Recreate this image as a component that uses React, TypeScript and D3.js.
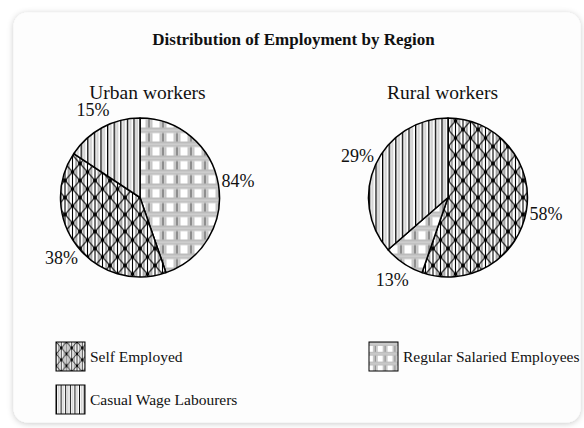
import * as d3 from "d3";
import React from "react";

// chart values
const legendItems = ["Self Employed", "Regular Salaried Employees", "Casual Wage Labourers"];

const urbanOrder = ["Regular Salaried Employees", "Self Employed", "Casual Wage Labourers"];
const urbanShares = [44.7, 39.6, 15.7];
const urbanLabels = ["84%", "38%", "15%"];

const ruralOrder = ["Self Employed", "Regular Salaried Employees", "Casual Wage Labourers"];
const ruralShares = [55.3, 8.3, 36.4];
const ruralLabels = ["58%", "13%", "29%"];

const W = 584;
const H = 428;
const FONT = "'Liberation Serif', 'Times New Roman', serif";

const patternId = (name: string, prefix: string) =>
  prefix + "-" + name.replace(/\s+/g, "-").toLowerCase();

// hatch fills, one per category
const Patterns = ({ prefix, scale }: { prefix: string; scale: number }) => {
  const t = `scale(${scale})`;
  const sw = 1.1;
  return (
    <>
      <pattern id={patternId("Self Employed", prefix)} width={15} height={17}
        patternUnits="userSpaceOnUse" patternTransform={t}>
        <rect width={15} height={17} fill="#fff" />
        <rect x={2.6} y={0} width={2.2} height={17} fill="#a8a8a8" />
        <rect x={10.2} y={0} width={2.2} height={17} fill="#a8a8a8" />
        <line x1={0} y1={0} x2={0} y2={17} stroke="#000" strokeWidth={sw} />
        <line x1={7.5} y1={0} x2={7.5} y2={17} stroke="#000" strokeWidth={sw} />
        <line x1={15} y1={0} x2={15} y2={17} stroke="#000" strokeWidth={sw} />
        <line x1={0} y1={0} x2={15} y2={17} stroke="#000" strokeWidth={sw} />
        <line x1={15} y1={0} x2={0} y2={17} stroke="#000" strokeWidth={sw} />
        <line x1={-7.5} y1={8.5} x2={7.5} y2={25.5} stroke="#000" strokeWidth={sw} />
        <line x1={7.5} y1={-8.5} x2={22.5} y2={8.5} stroke="#000" strokeWidth={sw} />
        <line x1={22.5} y1={8.5} x2={7.5} y2={25.5} stroke="#000" strokeWidth={sw} />
        <line x1={7.5} y1={-8.5} x2={-7.5} y2={8.5} stroke="#000" strokeWidth={sw} />
        {[[0, 0], [15, 0], [7.5, 8.5], [0, 17], [15, 17]].map(([x, y], i) => (
          <circle key={i} cx={x} cy={y} r={2} fill="#000" />
        ))}
      </pattern>
      <pattern id={patternId("Regular Salaried Employees", prefix)} width={14} height={14}
        patternUnits="userSpaceOnUse" patternTransform={t}>
        <rect width={14} height={14} fill="#fff" />
        <rect x={0} y={0} width={14} height={5.5} fill="#bcbcbc" />
        <rect x={0} y={2.2} width={14} height={1.2} fill="#d8d8d8" />
        <rect x={5.5} y={5.5} width={2.5} height={8.5} fill="#c6c6c6" />
        <rect x={8} y={5.5} width={2.2} height={8.5} fill="#8e8e8e" />
        <rect x={10.2} y={5.5} width={2.3} height={8.5} fill="#c6c6c6" />
      </pattern>
      <pattern id={patternId("Casual Wage Labourers", prefix)} width={6.6} height={10}
        patternUnits="userSpaceOnUse" patternTransform={t}>
        <rect width={6.6} height={10} fill="#fff" />
        <rect x={2.4} y={0} width={2.4} height={10} fill="#d4d4d4" />
        <rect x={0} y={0} width={1.3} height={10} fill="#000" />
      </pattern>
    </>
  );
};

const Pie = ({ cx, cy, r, order, shares, labels }: {
  cx: number; cy: number; r: number; order: string[]; shares: number[]; labels: string[];
}) => {
  const pie = d3.pie<number>().sort(null).value((d) => d);
  const arcs = pie(shares);
  const arc = d3.arc<d3.PieArcDatum<number>>().innerRadius(0).outerRadius(r);
  const labelArc = d3.arc<d3.PieArcDatum<number>>().innerRadius(r + 20).outerRadius(r + 20);
  return (
    <g transform={`translate(${cx},${cy})`}>
      {arcs.map((a, i) => (
        <path key={i} d={arc(a) || ""} fill={`url(#${patternId(order[i], "pie")})`}
          stroke="#000" strokeWidth={1.5} strokeLinejoin="round" />
      ))}
      {arcs.map((a, i) => {
        const [lx, ly] = labelArc.centroid(a);
        return (
          <text key={"l" + i} x={lx} y={ly} textAnchor="middle" dominantBaseline="central"
            fontSize={18} fill="#111">{labels[i]}</text>
        );
      })}
    </g>
  );
};

export default function App() {
  const r = 79.5;
  const legendPos = [
    { x: 56, y: 342 },
    { x: 369, y: 342 },
    { x: 56, y: 385 },
  ];
  return (
    <svg width={W} height={H} style={{ position: "absolute", left: 0, top: 0, fontFamily: FONT }}>
      <defs>
        <filter id="shadow" x="-5%" y="-5%" width="110%" height="110%">
          <feDropShadow dx={0} dy={1} stdDeviation={3} floodColor="#000" floodOpacity={0.22} />
        </filter>
        <Patterns prefix="pie" scale={1} />
        <Patterns prefix="leg" scale={0.7} />
      </defs>
      <rect width={W} height={H} fill="#fff" />
      <rect x={13.5} y={12.5} width={567} height={410} rx={14} fill="#fdfdfd" filter="url(#shadow)" />

      <text x={293.5} y={45} textAnchor="middle" fontSize={17} fontWeight="bold" fill="#111">
        Distribution of Employment by Region
      </text>

      <text x={147.5} y={99} textAnchor="middle" fontSize={19.5} fill="#111">Urban workers</text>
      <text x={442.5} y={99} textAnchor="middle" fontSize={19.5} fill="#111">Rural workers</text>

      <Pie cx={140} cy={197.5} r={r} order={urbanOrder} shares={urbanShares} labels={urbanLabels} />
      <Pie cx={448} cy={197.5} r={r} order={ruralOrder} shares={ruralShares} labels={ruralLabels} />

      {legendItems.map((name, i) => (
        <g key={name} transform={`translate(${legendPos[i].x},${legendPos[i].y})`}>
          <rect width={29} height={29} fill={`url(#${patternId(name, "leg")})`} stroke="#000" strokeWidth={1} />
          <text x={34} y={19.5} fontSize={15.5} fill="#111">{name}</text>
        </g>
      ))}
    </svg>
  );
}
